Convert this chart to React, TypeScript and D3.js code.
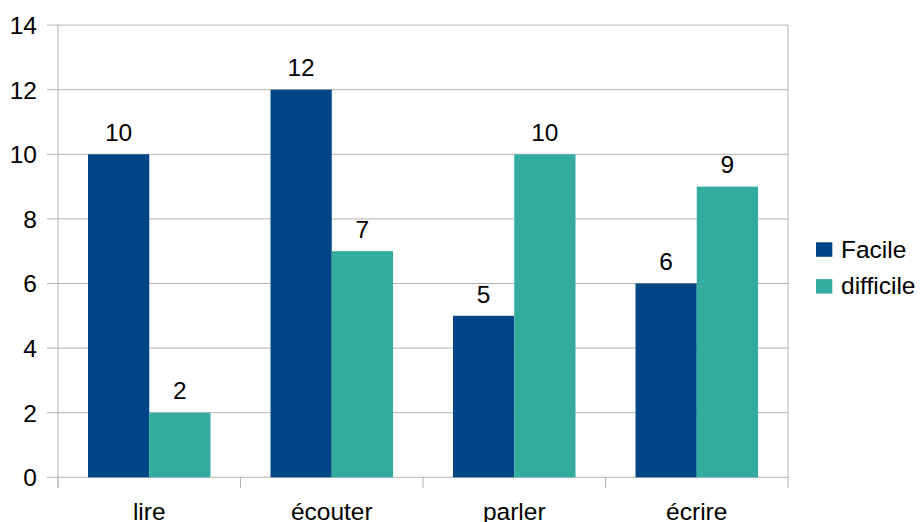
import React from "react";
import * as d3 from "d3";

const categories = ["lire", "écouter", "parler", "écrire"];
const seriesNames = ["Facile", "difficile"];
const facile = [10, 12, 5, 6];
const difficile = [2, 7, 10, 9];
const yTicks = [0, 2, 4, 6, 8, 10, 12, 14];
const colors = ["#004586", "#31ac9e"];

export default function App() {
  const W = 921, H = 522;
  const left = 58, right = 788, top = 25.1, bottom = 477.3;
  const x = d3.scaleBand<string>().domain(categories).range([left, right]).paddingInner(0).paddingOuter(0);
  const y = d3.scaleLinear().domain([0, 14]).range([bottom, top]);
  const inner = d3.scaleBand<string>().domain(seriesNames).range([30, x.bandwidth() - 30]);
  const data = [facile, difficile];
  const font = "'Liberation Sans', Arial, sans-serif";
  const grid = "#b3b3b3";
  const fs = 24.5;
  return (
    <svg width={W} height={H} style={{ position: "absolute", left: 0, top: 0 }} fontFamily={font}>
      <rect width={W} height={H} fill="#fff" />
      {yTicks.map((t) => (
        <g key={t}>
          <line x1={47} x2={right} y1={y(t)} y2={y(t)} stroke={grid} strokeWidth={1} />
          <text x={37} y={y(t)} dy="0.36em" textAnchor="end" fontSize={fs} fill="#000">{t}</text>
        </g>
      ))}
      <line x1={left} x2={left} y1={top} y2={488} stroke={grid} />
      <line x1={right} x2={right} y1={top} y2={488} stroke={grid} />
      {categories.map((c, i) => (
        <line key={"t" + i} x1={x(c)!} x2={x(c)!} y1={bottom} y2={488} stroke={grid} />
      ))}
      {categories.map((c, ci) =>
        seriesNames.map((s, si) => {
          const v = data[si][ci];
          const bx = x(c)! + inner(s)!;
          return (
            <g key={c + s}>
              <rect x={bx} y={y(v)} width={inner.bandwidth()} height={y(0) - y(v)} fill={colors[si]} />
              <text x={bx + inner.bandwidth() / 2} y={y(v) - 13.3} textAnchor="middle" fontSize={fs} fill="#000">{v}</text>
            </g>
          );
        })
      )}
      {categories.map((c) => (
        <text key={"l" + c} x={x(c)! + x.bandwidth() / 2} y={519.5} textAnchor="middle" fontSize={fs} fill="#000">{c}</text>
      ))}
      {seriesNames.map((s, i) => (
        <g key={"lg" + s}>
          <rect x={816} y={242.3 + i * 36.8} width={16.3} height={14.5} fill={colors[i]} />
          <text x={841} y={257.5 + i * 36.8} fontSize={fs} fill="#000">{s}</text>
        </g>
      ))}
    </svg>
  );
}
